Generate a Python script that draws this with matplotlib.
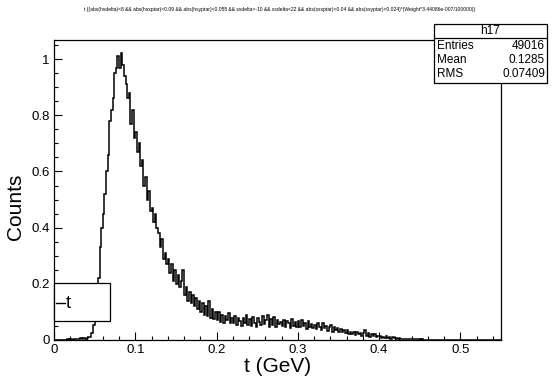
import numpy as np
import matplotlib.pyplot as plt
from matplotlib.patches import Rectangle
from matplotlib.lines import Line2D

plt.rcParams["font.family"] = ["Liberation Sans", "DejaVu Sans"]

# histogram h17: bins of 0.002 GeV from 0 to 0.55
bin_width = 0.002
counts = [
    0, 0, 0, 0, 0, 0, 0, 0, 0.002, 0,
    0.003, 0.001, 0.004, 0.002, 0.005, 0.003, 0.006, 0.004, 0.008, 0.005,
    0.007, 0.012, 0.010, 0.025, 0.055, 0.09, 0.16, 0.22, 0.33, 0.40,
    0.45, 0.52, 0.60, 0.66, 0.78, 0.82, 0.86, 0.95, 0.97, 1.01,
    0.97, 1.02, 0.98, 0.94, 0.91, 0.86, 0.88, 0.77, 0.82, 0.72,
    0.74, 0.67, 0.70, 0.62, 0.64, 0.55, 0.58, 0.50, 0.53, 0.46,
    0.47, 0.42, 0.45, 0.40, 0.38, 0.33, 0.36, 0.29, 0.31, 0.27,
    0.29, 0.24, 0.27, 0.21, 0.25, 0.20, 0.23, 0.19, 0.21, 0.25,
    0.16, 0.19, 0.14, 0.17, 0.13, 0.16, 0.12, 0.15, 0.11, 0.14,
    0.10, 0.13, 0.09, 0.12, 0.085, 0.14, 0.08, 0.11, 0.075, 0.10,
    0.07, 0.10, 0.065, 0.09, 0.06, 0.085, 0.07, 0.095, 0.06, 0.08,
    0.062, 0.085, 0.055, 0.08, 0.068, 0.05, 0.078, 0.06, 0.088, 0.055,
    0.075, 0.05, 0.082, 0.06, 0.045, 0.078, 0.065, 0.052, 0.085, 0.058,
    0.07, 0.09, 0.045, 0.075, 0.055, 0.082, 0.048, 0.07, 0.058, 0.065,
    0.05, 0.072, 0.045, 0.068, 0.06, 0.042, 0.075, 0.05, 0.065, 0.048,
    0.068, 0.045, 0.07, 0.05, 0.062, 0.04, 0.066, 0.048, 0.058, 0.042,
    0.055, 0.04, 0.06, 0.045, 0.035, 0.062, 0.042, 0.05, 0.032, 0.048,
    0.055, 0.03, 0.045, 0.035, 0.042, 0.028, 0.04, 0.03, 0.036, 0.025,
    0.034, 0.022, 0.03, 0.02, 0.028, 0.018, 0.03, 0.02, 0.026, 0.016,
    0.024, 0.034, 0.015, 0.026, 0.012, 0.022, 0.014, 0.02, 0.01, 0.016,
    0.014, 0.008, 0.012, 0.006, 0.013, 0.007, 0.01, 0.005, 0.009, 0.006,
    0.007, 0.004, 0.006, 0.003, 0.005, 0.003, 0.005, 0.002, 0.004, 0.002,
    0.003, 0.002, 0.003, 0.002, 0.002, 0.001, 0.002, 0.001, 0.001, 0.001,
    0.001, 0, 0.001, 0, 0.001, 0, 0, 0, 0, 0,
] + [0] * 35

hist_name = "h17"
stats_labels = ["Entries", "Mean", "RMS"]
stats_values = ["49016", "0.1285", "0.07409"]
legend_label = "t"
title = ("t {(abs(hsdelta)<8 && abs(hsxptar)<0.09 && abs(hsyptar)<0.055 && "
         "ssdelta>-10 && ssdelta<22 && abs(ssxptar)<0.04 && abs(ssyptar)<0.024)"
         "*(Weight*3.44086e-007/100000)}")

W, H = 555, 379


def fx(px):
    return px / W


def fy(py):
    return 1 - py / H


fig = plt.figure(figsize=(W / 100, H / 100), dpi=100)
ax = fig.add_axes([fx(54), fy(340), (501 - 54) / W, (340 - 40) / H])

edges = np.arange(len(counts) + 1) * bin_width
ax.stairs(counts, edges, color="black", linewidth=1.1)

ax.set_xlim(0, 0.55)
ax.set_ylim(0, 1.068)
ax.set_xticks(np.arange(0, 0.51, 0.1))
ax.set_xticklabels(["0", "0.1", "0.2", "0.3", "0.4", "0.5"])
ax.set_xticks(np.arange(0, 0.551, 0.02), minor=True)
ax.set_yticks(np.arange(0, 1.01, 0.2))
ax.set_yticklabels(["0", "0.2", "0.4", "0.6", "0.8", "1"])
ax.set_yticks(np.arange(0, 1.06, 0.05), minor=True)
ax.tick_params(which="both", direction="in", top=False, right=False,
               labelsize=9.5, width=0.8)
ax.tick_params(which="major", length=5.5, pad=3)
ax.tick_params(which="minor", length=2.8)
for s in ax.spines.values():
    s.set_linewidth(0.9)

fig.text(fx(278), fy(367), "t (GeV)", fontsize=15, ha="center", va="center")
fig.text(fx(15), fy(207), "Counts", fontsize=15, ha="center", va="center",
         rotation=90)
fig.text(fx(280), fy(10), title, fontsize=3.6, ha="center", va="center")

# stats box
fig.add_artist(Rectangle((fx(434), fy(83)), (547 - 434) / W, (83 - 24) / H,
                         transform=fig.transFigure, facecolor="white",
                         edgecolor="black", linewidth=0.9))
fig.add_artist(Line2D([fx(434), fx(547)], [fy(37.5), fy(37.5)],
                      color="black", linewidth=0.9))
fig.text(fx(490), fy(31), hist_name, fontsize=8.5, ha="center", va="center")
for i, (lab, val) in enumerate(zip(stats_labels, stats_values)):
    yy = fy(46 + i * 14)
    fig.text(fx(437), yy, lab, fontsize=8.5, ha="left", va="center")
    fig.text(fx(545), yy, val, fontsize=8.5, ha="right", va="center")

# legend box
fig.add_artist(Rectangle((fx(54), fy(321)), (110 - 54) / W, (321 - 283) / H,
                         transform=fig.transFigure, facecolor="white",
                         edgecolor="black", linewidth=0.9))
fig.add_artist(Line2D([fx(56), fx(65)], [fy(303), fy(303)],
                      color="black", linewidth=1.0))
fig.text(fx(66), fy(303), legend_label, fontsize=13, ha="left", va="center")

fig.savefig("out.png", dpi=100)
plt.close(fig)
